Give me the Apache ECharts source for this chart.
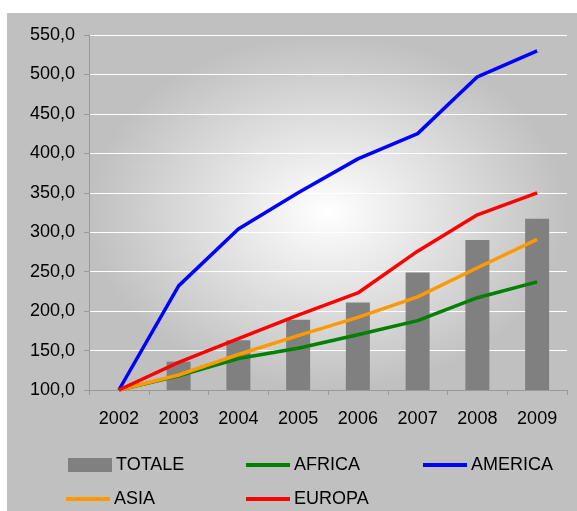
<!DOCTYPE html>
<html>
<head>
<meta charset="utf-8">
<script src="https://cdn.jsdelivr.net/npm/echarts@6/dist/echarts.min.js"></script>
<style>
  html, body { margin: 0; padding: 0; background: #fff; }
  #chart { width: 577px; height: 511px; }
</style>
</head>
<body>
<div id="chart"></div>
<script>
// dati
var anni = ['2002', '2003', '2004', '2005', '2006', '2007', '2008', '2009'];
var totale  = [100, 136, 163, 189, 211, 249, 290, 317];
var africa  = [100, 118, 140, 153, 170, 188, 217, 237];
var america = [100, 232, 304, 350, 393, 425, 497, 530];
var asia    = [100, 119, 145, 169, 192, 218, 255, 291];
var europa  = [100, 135, 165, 195, 223, 276, 322, 350];

var font = 'Liberation Sans, Arial, sans-serif';
var myChart = echarts.init(document.getElementById('chart'));

// grid: sinistra 89, destra 567, alto 35, basso 390
var gL = 89, gT = 35, gW = 478, gH = 355;

function linea(nome, dati, colore) {
  return {
    name: nome,
    type: 'line',
    data: dati,
    symbol: 'none',
    smooth: false,
    lineStyle: { color: colore, width: 3.5 },
    itemStyle: { color: colore },
    z: 3
  };
}

// una legenda per ogni voce, cosi' le colonne restano allineate
var iconaLinea = 'path://M0,0H44V4H0Z';
function voce(nome, x, y, icona) {
  return {
    left: x, top: y, padding: 0,
    itemWidth: 44, itemHeight: 14, itemGap: 4,
    data: [icona ? { name: nome, icon: icona } : nome],
    textStyle: { fontFamily: font, fontSize: 18, color: '#000', padding: [0, 0, 0, -1] }
  };
}

var option = {
  backgroundColor: '#ffffff',
  animation: false,
  graphic: [
    { type: 'rect', z: -2, silent: true, shape: { x: 7, y: 13, width: 570, height: 498 }, style: { fill: '#c0c0c0' } },
    {
      type: 'rect', z: -1, silent: true,
      x: gL, y: gT, scaleY: gH / gW,
      shape: { x: 0, y: 0, width: gW, height: gW },
      style: {
        fill: {
          type: 'radial', x: 0.5, y: 0.5, r: 0.5,
          colorStops: [{ offset: 0, color: '#ffffff' }, { offset: 1, color: '#c0c0c0' }]
        }
      }
    }
  ],
  grid: { left: gL, top: gT, width: gW, height: gH, containLabel: false },
  legend: [
    voce('TOTALE', 68, 456, 'rect'),
    voce('AFRICA', 246, 456, iconaLinea),
    voce('AMERICA', 423, 456, iconaLinea),
    voce('ASIA', 66, 490, iconaLinea),
    voce('EUROPA', 246, 490, iconaLinea)
  ],
  xAxis: {
    type: 'category',
    data: anni,
    boundaryGap: true,
    axisLine: { lineStyle: { color: '#999999', width: 1 } },
    axisTick: { show: true, length: 5, alignWithLabel: false, lineStyle: { color: '#999999' } },
    axisLabel: { color: '#000', fontFamily: font, fontSize: 18, margin: 20 },
    splitLine: { show: false }
  },
  yAxis: {
    type: 'value',
    min: 100,
    max: 550,
    interval: 50,
    axisLine: { show: true, lineStyle: { color: '#999999', width: 1 } },
    axisTick: { show: true, length: 5, lineStyle: { color: '#999999' } },
    axisLabel: {
      color: '#000', fontFamily: font, fontSize: 18, margin: 14,
      formatter: function (v) { return v.toFixed(1).replace('.', ','); }
    },
    splitLine: { show: true, lineStyle: { color: '#ffffff', width: 1 } }
  },
  series: [
    {
      name: 'TOTALE',
      type: 'bar',
      data: totale,
      barWidth: 24,
      itemStyle: { color: '#808080' },
      z: 2
    },
    linea('AFRICA', africa, '#008000'),
    linea('AMERICA', america, '#0000ff'),
    linea('ASIA', asia, '#ff9900'),
    linea('EUROPA', europa, '#ff0000')
  ]
};
myChart.setOption(option);
</script>
</body>
</html>
